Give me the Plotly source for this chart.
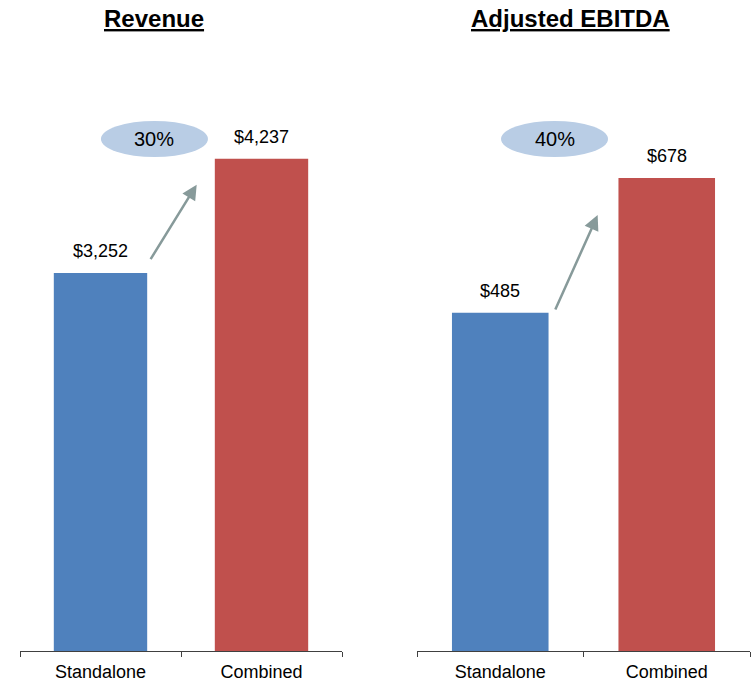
import plotly.graph_objects as go

categories = ["Standalone", "Combined"]
revenue = [3252, 4237]
ebitda = [485, 678]
revenue_labels = ["$3,252", "$4,237"]
ebitda_labels = ["$485", "$678"]
growth_labels = ["30%", "40%"]
titles = ["Revenue", "Adjusted EBITDA"]

BLUE = "#4F81BD"
RED = "#C0504D"
ELLIPSE = "#B9CDE5"
ARROW = "#879A9A"
AXIS = "#404040"
FONT = "Liberation Sans, Arial, sans-serif"

W, H = 752, 681
T, B = 40, 30
plot_h = H - T - B

fig = go.Figure()
fig.add_trace(go.Bar(x=categories, y=revenue, marker=dict(color=[BLUE, RED], line=dict(width=0)),
                     xaxis="x", yaxis="y", showlegend=False, hoverinfo="skip"))
fig.add_trace(go.Bar(x=categories, y=ebitda, marker=dict(color=[BLUE, RED], line=dict(width=0)),
                     xaxis="x2", yaxis="y2", showlegend=False, hoverinfo="skip"))

axis_common = dict(type="category", range=[-0.5, 1.5], showline=True, linecolor=AXIS, linewidth=1,
                   ticks="outside", tickson="boundaries", ticklen=5, tickcolor=AXIS, tickwidth=1,
                   showgrid=False, zeroline=False, tickfont=dict(family=FONT, size=18, color="#000000"),
                   fixedrange=True, ticklabelstandoff=4)
yaxis_common = dict(showgrid=False, zeroline=False, showticklabels=False, showline=False, ticks="",
                    fixedrange=True)

fig.update_layout(
    width=W, height=H,
    margin=dict(l=0, r=0, t=T, b=B),
    paper_bgcolor="white", plot_bgcolor="white",
    bargap=0.42,
    xaxis=dict(domain=[20 / W, 342 / W], anchor="y", **axis_common),
    xaxis2=dict(domain=[417 / W, 750 / W], anchor="y2", **axis_common),
    yaxis=dict(domain=[0, 1], range=[0, 5258], anchor="x", **yaxis_common),
    yaxis2=dict(domain=[0, 1], range=[0, 876], anchor="x2", **yaxis_common),
    font=dict(family=FONT),
)

ann = []
shapes = []
title_x = [154 / W, 570.5 / W]
title_y = (H - B - 18) / plot_h
for i, t in enumerate(titles):
    ann.append(dict(text="<b><u>" + t + "</u></b>", xref="paper", yref="paper", x=title_x[i], y=title_y,
                    xanchor="center", yanchor="middle", showarrow=False,
                    font=dict(family=FONT, size=24, color="#000000")))

# value labels
for xr, yr, vals, labs in [("x", "y", revenue, revenue_labels), ("x2", "y2", ebitda, ebitda_labels)]:
    for c, v, l in zip(categories, vals, labs):
        ann.append(dict(text=l, xref=xr, yref=yr, x=c, y=v, yshift=22, xanchor="center", yanchor="middle",
                        showarrow=False, font=dict(family=FONT, size=18, color="#000000")))

# growth ellipses
ell_y = (H - B - 139) / plot_h
ell_x = [0.335, 0.326]
for i, xr in enumerate(["x", "x2"]):
    shapes.append(dict(type="circle", xref=xr, yref="paper", xsizemode="pixel", ysizemode="pixel",
                       xanchor=ell_x[i], yanchor=ell_y, x0=-53.5, x1=53.5, y0=-18, y1=18,
                       fillcolor=ELLIPSE, line=dict(width=0), layer="below"))
    ann.append(dict(text=growth_labels[i], xref=xr, yref="paper", x=ell_x[i], y=ell_y,
                    xanchor="center", yanchor="middle", showarrow=False,
                    font=dict(family=FONT, size=20, color="#000000")))

# arrows
arrow_specs = [("x", "y", 0.5975, revenue[1], -26, -47, 76), ("x2", "y2", 0.585, ebitda[1], -37, -43, 96)]
for xr, yr, xh, yv, ys, ax, ay in arrow_specs:
    ann.append(dict(text="", xref=xr, yref=yr, x=xh, y=yv, yshift=ys, ax=ax, ay=ay, axref="pixel", ayref="pixel",
                    showarrow=True, arrowhead=2, arrowsize=1.2, arrowwidth=2.5, arrowcolor=ARROW, standoff=0))

fig.update_layout(annotations=ann, shapes=shapes)
fig.write_html("out.html", config={"displayModeBar": False},
               post_script="document.body.style.margin='0px';document.body.style.overflow='hidden';")
